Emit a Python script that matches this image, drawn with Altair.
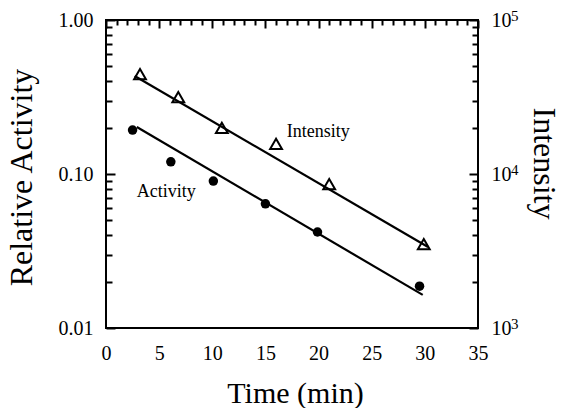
import altair as alt
import pandas as pd

# Relative enzyme activity (filled circles)
act_time = [2.5, 6.1, 10.1, 15.0, 19.9, 29.5]
act_value = [0.193, 0.120, 0.090, 0.064, 0.042, 0.0187]

# Signal intensity (open triangles)
int_time = [3.2, 6.8, 10.9, 16.0, 21.0, 29.9]
int_value = [44600, 31600, 19900, 15700, 8610, 3510]

# First-order decay fits, given by their end points
act_fit_time = [2.9, 29.8]
act_fit_value = [0.202, 0.0164]
int_fit_time = [2.7, 30.3]
int_fit_value = [43300, 3360]

# Tick positions (major ones carry labels)
x_ticks = list(range(0, 36))
y_major = [0.01, 0.1, 1.0]
y_minor = [m * d for d in (0.01, 0.1) for m in range(2, 10)]
int_major = [1000, 10000, 100000]
int_minor = [m * d for d in (1000, 10000) for m in range(2, 10)]
int_exponents = [3, 4, 5]

W, H = 372, 308
FONT = "Liberation Serif"

act_df = pd.DataFrame({"time": act_time, "value": act_value})
int_df = pd.DataFrame({"time": int_time, "value": int_value})
act_fit = pd.DataFrame({"time": act_fit_time, "value": act_fit_value})
int_fit = pd.DataFrame({"time": int_fit_time, "value": int_fit_value})

xs = alt.Scale(domain=[0, 35], nice=False, zero=False)
ys_act = alt.Scale(type="log", domain=[0.01, 1], nice=False)
ys_int = alt.Scale(type="log", domain=[1000, 100000], nice=False)

# Inward ticks are drawn as short dashed stubs of the grid lines,
# which start at the axis edge and run into the plot.
STUB = 1000


def stub(test, major_len, minor_len):
    return {"condition": {"test": test, "value": [major_len, STUB]},
            "value": [minor_len, STUB]}


GRID = dict(grid=True, gridColor="black", gridOpacity=1, gridWidth=2, zindex=1)

x_axis = alt.Axis(
    values=x_ticks, ticks=False, domain=False, labelOverlap=False, labelFlush=False,
    labelExpr="datum.value % 5 === 0 ? datum.label : ''",
    gridDash=stub("datum.value % 5 === 0", 8, 5), **GRID,
    labelFont=FONT, labelFontSize=20, labelColor="black", labelPadding=15,
    title="Time (min)", titleFont=FONT, titleFontSize=30, titleFontWeight="normal",
    titleColor="black", titleX=189, titleY=74, titleAlign="center",
    titleBaseline="alphabetic", titleAnchor="middle",
)
left_major = "datum.value == 0.01 || datum.value == 0.1 || datum.value == 1"
y_axis_left = alt.Axis(
    values=sorted(y_major + y_minor), ticks=False, domain=False, labelOverlap=False,
    labelExpr=f"({left_major}) ? format(datum.value, '.2f') : ''",
    gridDash=stub(left_major, 9, 6), **GRID,
    labelFont=FONT, labelFontSize=20, labelColor="black", labelPadding=13,
    title="Relative Activity", titleFont=FONT, titleFontSize=32,
    titleFontWeight="normal", titleColor="black", titleAngle=270,
    titleX=-85, titleY=157, titleAlign="center", titleBaseline="middle",
)
right_major = "datum.value == 1000 || datum.value == 10000 || datum.value == 100000"
y_axis_right = alt.Axis(
    orient="right", values=sorted(int_major + int_minor), ticks=False, domain=False,
    labelOverlap=False, labelExpr=f"({right_major}) ? '10' : ''",
    gridDash=stub(right_major, 9, 6), **GRID,
    labelFont=FONT, labelFontSize=20, labelColor="black", labelPadding=13,
    title="Intensity", titleFont=FONT, titleFontSize=32,
    titleFontWeight="normal", titleColor="black", titleAngle=90,
    titleX=65, titleY=143, titleAlign="center", titleBaseline="middle",
)

X = alt.X("time:Q", scale=xs, axis=x_axis)
Y_ACT = alt.Y("value:Q", scale=ys_act, axis=y_axis_left)
Y_INT = alt.Y("value:Q", scale=ys_int, axis=y_axis_right)

# ---- activity (left axis) ----
act_points = alt.Chart(act_df).mark_circle(size=90, color="black", opacity=1).encode(
    x=X, y=Y_ACT
)
act_line = alt.Chart(act_fit).mark_line(color="black", strokeWidth=2.2).encode(
    x=X, y=Y_ACT
)
act_label = alt.Chart(pd.DataFrame({"time": [2.9], "value": [0.0709], "t": ["Activity"]})).mark_text(
    font=FONT, fontSize=18, color="black", align="left", baseline="alphabetic"
).encode(x=X, y=Y_ACT, text="t:N")

activity = alt.layer(act_line, act_points, act_label)

# ---- intensity (right axis) ----
int_points = alt.Chart(int_df).mark_point(
    shape="triangle-up", filled=False, size=140, color="black", strokeWidth=2, opacity=1
).encode(x=X, y=Y_INT)
int_line = alt.Chart(int_fit).mark_line(color="black", strokeWidth=2.2).encode(
    x=X, y=Y_INT
)
int_label = alt.Chart(pd.DataFrame({"time": [17.0], "value": [17400], "t": ["Intensity"]})).mark_text(
    font=FONT, fontSize=18, color="black", align="left", baseline="alphabetic"
).encode(x=X, y=Y_INT, text="t:N")
exp_df = pd.DataFrame({"exp": int_exponents, "value": int_major})
int_exp = alt.Chart(exp_df).mark_text(
    font=FONT, fontSize=15, color="black", align="left", baseline="middle", dy=-4
).encode(y=Y_INT, x=alt.value(W + 33), text="exp:N")

intensity = alt.layer(int_line, int_points, int_label, int_exp)

chart = (
    alt.layer(activity, intensity)
    .resolve_scale(y="independent")
    .properties(
        width=W, height=H,
        autosize=alt.AutoSizeParams(type="none"),
        padding={"left": 106, "top": 20, "right": 83, "bottom": 80},
        background="white",
    )
    .configure_view(stroke="black", strokeWidth=2)
)

chart.save("out.html", embed_options={"renderer": "svg", "actions": False})
